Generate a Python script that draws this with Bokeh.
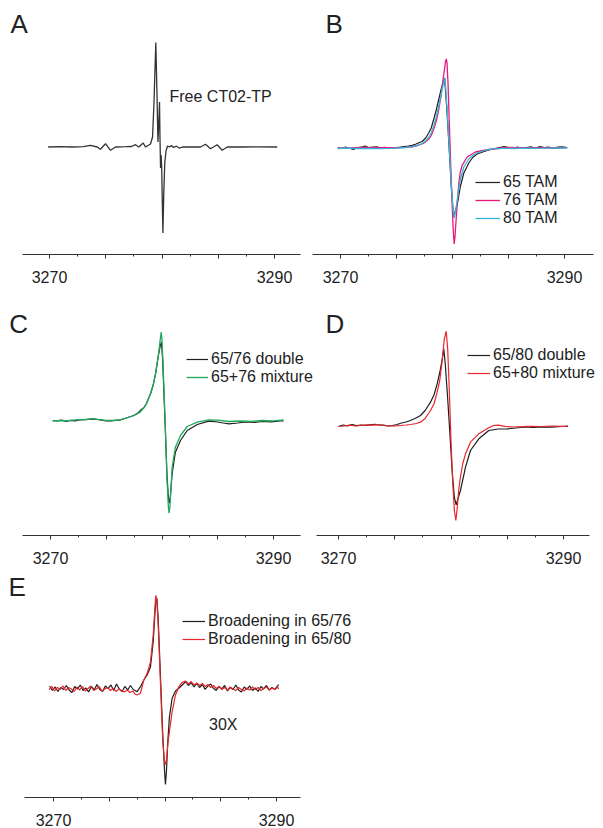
from bokeh.plotting import figure
from bokeh.layouts import column, row
from bokeh.models import FixedTicker, Range1d, Label, Legend, LegendItem
from bokeh.embed import file_html
from bokeh.resources import INLINE

FONT = "Liberation Sans"

# ---------------- axis ticks (magnetic field, G) ----------------
TICKS = [3270, 3275, 3280, 3285, 3290]
MINOR_TICKS = [3272.5, 3277.5, 3282.5, 3287.5]
HIDDEN_TICK_LABELS = {3275: "", 3280: "", 3285: ""}

# ---------------- data: (field G, signal a.u.) ----------------
A_FREE = [(3269.88, 0), (3271.0, 0.3), (3272.0, 0), (3273.0, 0.3), (3273.64, 1.7), (3274.24, 0),
          (3274.53, -2.3), (3274.98, 3.3), (3275.42, -3.3), (3275.87, 0), (3276.8, 0.3), (3277.3, 0.5),
          (3277.64, 2.3), (3277.94, 0), (3278.33, 4), (3278.53, 0), (3278.98, 3), (3279.16, 10),
          (3279.29, 45), (3279.45, 104.5), (3279.56, 50), (3279.64, 5), (3279.72, 25), (3279.78, 45),
          (3279.82, 10), (3279.87, -21), (3279.92, -8), (3279.97, -20), (3280.08, -86), (3280.16, -45),
          (3280.25, -15), (3280.36, -4), (3280.49, 1), (3280.67, 0), (3280.84, 1.5), (3281.02, -0.5),
          (3281.29, 0.8), (3281.56, -1.2), (3281.82, 0), (3282.53, 0), (3283.42, 0), (3283.87, 2.7),
          (3284.31, -1.7), (3284.9, 2.3), (3285.35, -3.3), (3285.8, 0), (3286.98, 0), (3288.5, 0.2),
          (3290.24, 0)]

B_65 = [(3269.76, 0.5), (3270.1, -0.5), (3270.45, 1.0), (3270.8, -0.3), (3271.15, -1.5), (3271.5, 0.2),
        (3271.85, 0.8), (3272.2, 2.0), (3272.55, 0.3), (3272.9, 0.8), (3273.25, 1.2), (3273.6, 0.0),
        (3273.95, 0.6), (3274.3, -0.4), (3274.65, 0.3), (3275.0, 0.4), (3275.35, 0.8), (3275.7, 1.3),
        (3276.05, 1.8), (3276.4, 2.6), (3276.75, 4.0), (3277.05, 5.5), (3277.3, 6.5), (3277.6, 10),
        (3277.9, 15.5), (3278.1, 20), (3278.33, 29), (3278.55, 38), (3278.78, 49), (3278.95, 57),
        (3279.08, 62.5), (3279.2, 67), (3279.29, 70), (3279.5, 38), (3279.7, 0), (3279.9, -40),
        (3280.05, -63), (3280.12, -69), (3280.25, -63), (3280.42, -57), (3280.71, -38), (3281.01, -25),
        (3281.46, -15), (3281.8, -9.5), (3282.2, -6), (3282.95, -3), (3283.4, -1.5), (3283.8, -0.5),
        (3284.2, 0.5), (3284.6, 1.5), (3285.0, 0.3), (3285.4, -0.5), (3285.8, 0.8), (3286.2, -0.3),
        (3286.6, 0.5), (3287.0, 1.2), (3287.4, -0.2), (3287.8, 1.5), (3288.2, 0.3), (3288.6, 1.0),
        (3289.0, -0.5), (3289.4, 0.8), (3289.8, 1.2), (3290.24, 0.3)]

B_76 = [(3269.76, 0), (3271.0, 0.3), (3272.0, 0.6), (3273.0, 0.3), (3274.0, 0.4), (3275.0, 0.3),
        (3275.7, 0.6), (3276.3, 1.0), (3276.9, 2.5), (3277.4, 4.5), (3277.9, 9), (3278.1, 12.5),
        (3278.33, 19), (3278.55, 27), (3278.78, 39), (3278.95, 50), (3279.08, 62), (3279.2, 72),
        (3279.29, 79), (3279.37, 86), (3279.44, 89), (3279.51, 85), (3279.6, 65), (3279.7, 30),
        (3279.85, -20), (3280.0, -65), (3280.08, -85), (3280.15, -96), (3280.22, -89), (3280.32, -72),
        (3280.42, -56), (3280.57, -34), (3280.7, -24), (3280.86, -17.5), (3281.31, -9), (3282.05, -4),
        (3282.95, -2), (3284.0, -0.5), (3285.0, 0.5), (3286.5, 0), (3288.0, 0.3), (3289.2, 0),
        (3290.24, 0.3)]

B_80 = [(3269.76, -0.5), (3270.6, 0), (3271.5, -0.5), (3272.5, -0.3), (3273.5, -0.6), (3274.5, -0.3),
        (3275.3, 0), (3275.8, 0.5), (3276.4, 1.3), (3276.9, 2.8), (3277.3, 4.5), (3277.6, 7),
        (3277.9, 11), (3278.1, 15), (3278.33, 22), (3278.55, 31), (3278.78, 42), (3278.95, 52),
        (3279.08, 59), (3279.2, 65), (3279.33, 70), (3279.5, 42), (3279.7, 3), (3279.9, -38),
        (3280.05, -61), (3280.15, -70), (3280.28, -63), (3280.42, -52), (3280.57, -40), (3280.71, -31),
        (3281.01, -19), (3281.46, -11), (3281.8, -7.5), (3282.2, -5), (3282.95, -2), (3283.6, -0.8),
        (3284.5, -0.3), (3285.5, -0.5), (3286.5, -0.2), (3287.5, -0.4), (3288.5, -0.1), (3289.5, 0),
        (3290.24, 0)]

C_DOUBLE = [(3270.2, 0), (3270.6, -0.5), (3271.0, 0.3), (3271.4, -0.8), (3271.8, 0.2), (3272.2, -0.3),
            (3272.6, 0.5), (3273.0, 0.8), (3273.4, 1.2), (3273.8, 1.6), (3274.2, 1.0), (3274.6, 0.3),
            (3275.0, -0.5), (3275.4, -0.3), (3275.8, 0.2), (3276.28, 0.7), (3276.8, 2.5), (3277.2, 4),
            (3277.47, 5), (3277.9, 8), (3278.15, 11), (3278.37, 12.7), (3278.6, 17), (3278.97, 26.7),
            (3279.2, 35), (3279.42, 46.7), (3279.7, 66.7), (3279.85, 75), (3279.95, 78.3), (3280.05, 62),
            (3280.25, 5), (3280.45, -55), (3280.58, -78), (3280.66, -82.7), (3280.75, -76), (3280.91, -53),
            (3281.2, -31.7), (3281.66, -20), (3282.26, -10), (3283.16, -4), (3284.2, -0.7), (3285.0, -1.5),
            (3285.5, -2.5), (3286.0, -3.3), (3286.8, -2.5), (3287.5, -1.5), (3288.3, -1.8), (3289.0, -1.0),
            (3289.8, -1.3), (3290.6, -0.5), (3290.9, -0.3)]

C_MIX = [(3270.2, -0.5), (3270.8, 0), (3271.4, -0.3), (3272.0, 0.3), (3272.6, 0.8), (3273.2, 1.0),
         (3273.8, 1.8), (3274.4, 0.8), (3275.0, 0), (3275.6, 0), (3276.28, 0.7), (3276.8, 2.5),
         (3277.47, 5), (3278.0, 8), (3278.37, 12.7), (3278.6, 16.5), (3278.97, 26.7), (3279.2, 35),
         (3279.42, 46.7), (3279.7, 67), (3279.85, 82), (3279.93, 88.3), (3280.0, 80), (3280.1, 55),
         (3280.28, 0), (3280.45, -60), (3280.58, -88), (3280.64, -92.7), (3280.72, -85), (3280.91, -46.7),
         (3281.2, -26.7), (3281.66, -15), (3282.26, -6), (3283.16, -1.7), (3284.2, 0.7), (3285.0, 0.3),
         (3286.0, -1.0), (3287.0, -0.5), (3288.0, -0.8), (3289.0, 0), (3290.0, -0.3), (3290.9, 0.5)]

D_DOUBLE = [(3270.0, -1), (3270.4, 0.5), (3270.8, -0.3), (3271.2, 0.8), (3271.6, -0.2), (3272.0, 0.5),
            (3272.4, 0), (3272.8, 0.7), (3273.2, 1.2), (3273.6, 0.6), (3274.0, 0.3), (3274.4, -0.5),
            (3274.8, 0), (3275.2, 1.0), (3275.6, 2.5), (3276.0, 3.5), (3276.4, 5), (3276.8, 7),
            (3277.29, 10), (3277.7, 15), (3278.18, 23.3), (3278.5, 31), (3278.77, 41.7), (3279.0, 53),
            (3279.2, 65), (3279.36, 76.7), (3279.5, 60), (3279.7, 28), (3279.9, -8), (3280.1, -45),
            (3280.3, -72), (3280.46, -79.3), (3280.6, -74), (3280.84, -65), (3281.29, -41.7), (3281.73, -25),
            (3282.47, -13.3), (3283.36, -5), (3284.2, -3.5), (3285.0, -3.3), (3285.8, -2.5), (3286.5, -1.5),
            (3287.3, -2.0), (3288.2, -1.3), (3289.0, -1.7), (3289.8, -1.0), (3290.4, -0.8)]

D_MIX = [(3270.0, -1), (3270.5, -0.5), (3271.0, 0.3), (3271.5, -0.5), (3272.0, 0.2), (3272.5, 0.6),
         (3273.0, 0.4), (3273.5, 0.8), (3274.0, 0), (3274.5, -0.3), (3275.0, -0.5), (3275.5, 0),
         (3276.0, 0.5), (3276.4, 1), (3276.9, 2), (3277.29, 3.3), (3277.7, 7), (3278.18, 15),
         (3278.5, 22), (3278.77, 33.3), (3279.0, 45), (3279.2, 63), (3279.4, 86), (3279.57, 94.3),
         (3279.7, 78), (3279.85, 35), (3280.0, -15), (3280.15, -57), (3280.3, -85), (3280.43, -95),
         (3280.55, -83), (3280.68, -65), (3280.84, -51.7), (3281.05, -38), (3281.29, -28.3), (3281.73, -16.7),
         (3282.47, -8.3), (3283.36, -2.3), (3283.8, 0), (3284.2, 0.3), (3284.8, -0.8), (3285.5, -1.5),
         (3286.3, -1.2), (3287.0, -0.8), (3288.0, -1.0), (3289.0, -0.5), (3290.0, -0.8), (3290.4, -0.5)]

E_65_76 = [(3269.65, 2.0), (3269.9, -2.5), (3270.15, 1.0), (3270.4, -3.5), (3270.65, 0.5), (3270.9, -1.5),
           (3271.15, 2.5), (3271.4, -2.0), (3271.65, -4.5), (3271.9, 1.5), (3272.15, -1.0), (3272.4, 3.0),
           (3272.65, -2.5), (3272.9, 0.0), (3273.15, -4.0), (3273.4, 1.5), (3273.65, -2.0), (3273.9, 3.5),
           (3274.15, -1.5), (3274.4, -3.5), (3274.65, 2.0), (3274.9, -0.5), (3275.15, 3.0), (3275.4, -2.5),
           (3275.65, 4.0), (3275.9, -1.0), (3276.15, -3.5), (3276.4, 1.5), (3276.65, -2.0), (3276.9, 2.5),
           (3277.15, -1.5), (3277.5, -3.7), (3277.8, 1.3), (3278.1, 8), (3278.4, 13), (3278.7, 21.3),
           (3278.94, 46.3), (3279.09, 73), (3279.18, 88), (3279.27, 90.3), (3279.39, 69.7), (3279.6, 10),
           (3279.8, -47), (3279.96, -83.7), (3280.04, -97), (3280.13, -83.7), (3280.25, -53.7), (3280.4, -28.7),
           (3280.64, -10.3), (3280.94, -3), (3281.24, -0.3), (3281.54, 3), (3281.84, 6.3), (3282.1, 2.5),
           (3282.35, 5.5), (3282.6, 1.0), (3282.85, 4.5), (3283.1, 0.5), (3283.35, 3.5), (3283.6, -1.5),
           (3283.85, 2.0), (3284.1, 4.0), (3284.35, -0.5), (3284.6, -2.5), (3284.85, 1.5), (3285.1, -1.0),
           (3285.35, 2.5), (3285.6, -3.0), (3285.85, 0.5), (3286.1, -1.5), (3286.35, 3.0), (3286.6, -2.0),
           (3286.85, -4.0), (3287.1, 1.0), (3287.35, -1.5), (3287.6, 2.0), (3287.85, -2.5), (3288.1, 0.0),
           (3288.35, -3.5), (3288.6, 1.5), (3288.85, -1.0), (3289.1, 2.5), (3289.35, -2.0), (3289.6, 0.5),
           (3289.85, -1.5), (3290.1, 2.0), (3290.2, 3.5)]

E_65_80 = [(3269.6, -2.0), (3269.85, 1.5), (3270.1, -3.0), (3270.35, 0.5), (3270.6, -1.5), (3270.85, 2.0),
           (3271.1, -2.5), (3271.35, 0.5), (3271.6, -1.0), (3271.85, -3.5), (3272.1, 1.0), (3272.35, -2.0),
           (3272.6, 1.5), (3272.85, -3.0), (3273.1, -0.5), (3273.35, 2.0), (3273.6, -2.5), (3273.85, -1.0),
           (3274.1, 1.5), (3274.35, -3.0), (3274.6, -1.0), (3274.85, 0.5), (3275.1, -2.5), (3275.35, -0.5),
           (3275.6, -3.5), (3275.85, -1.0), (3276.1, -2.5), (3276.35, -4.0), (3276.6, -2.0), (3276.85, -4.5),
           (3277.1, -3.0), (3277.3, -6.0), (3277.5, -7.0), (3277.8, -5.3), (3278.1, 8), (3278.4, 14.7),
           (3278.7, 26.3), (3278.94, 53), (3279.09, 79.7), (3279.18, 93), (3279.27, 88), (3279.39, 63),
           (3279.6, 3), (3279.8, -53.7), (3279.96, -73.7), (3280.04, -77), (3280.13, -72), (3280.25, -57),
           (3280.4, -43.7), (3280.64, -23.7), (3280.94, -7), (3281.24, 1.3), (3281.54, 5.7), (3281.84, 7),
           (3282.1, 4.0), (3282.35, 6.5), (3282.6, 3.0), (3282.85, 5.0), (3283.1, 2.5), (3283.35, 4.5),
           (3283.6, 1.5), (3283.85, 3.5), (3284.1, 0.5), (3284.35, 2.5), (3284.6, -0.5), (3284.85, 1.5),
           (3285.1, -1.5), (3285.35, 0.5), (3285.6, -2.0), (3285.85, 1.0), (3286.1, -1.0), (3286.35, -2.5),
           (3286.6, 0.5), (3286.85, -1.5), (3287.1, -3.0), (3287.35, 0.0), (3287.6, -2.0), (3287.85, 1.0),
           (3288.1, -1.5), (3288.35, 0.5), (3288.6, -2.5), (3288.85, -0.5), (3289.1, 1.0), (3289.35, -2.0),
           (3289.6, 0.0), (3289.85, -1.5), (3290.1, 1.0), (3290.2, -1.0)]

BLACK = "#1e1e1e"
MAGENTA = "#e8197c"
CYAN = "#38b4d8"
GREEN = "#20a95a"
RED = "#e8262b"
TEXT = "#222222"


def xs(data):
    return [d[0] for d in data]


def ys(data):
    return [d[1] for d in data]


def make_panel(width, height, border_bottom, px3270, px3290, frame_left, axis_left, axis_right,
               baseline, frame_top, frame_bottom, standoff):
    scale = (px3290 - px3270) / 20.0

    def gx(px):
        return 3270 + (px - px3270) / scale

    def gy(py):
        return baseline - py

    p = figure(width=width, height=height, output_backend="svg", toolbar_location=None,
               x_range=Range1d(gx(frame_left), gx(frame_left + width)),
               y_range=Range1d(gy(frame_bottom), gy(frame_top)),
               y_axis_location=None, min_border=0, min_border_bottom=border_bottom)
    p.outline_line_color = None
    p.xgrid.visible = False
    p.ygrid.visible = False
    ax = p.xaxis[0]
    ax.ticker = FixedTicker(ticks=TICKS, minor_ticks=MINOR_TICKS)
    ax.major_label_overrides = HIDDEN_TICK_LABELS
    ax.bounds = (gx(axis_left), gx(axis_right))
    ax.axis_line_color = "#333333"
    ax.axis_line_width = 1
    ax.major_tick_line_color = "#333333"
    ax.minor_tick_line_color = "#333333"
    ax.major_tick_in = 0
    ax.major_tick_out = 4
    ax.minor_tick_in = 0
    ax.minor_tick_out = 2
    ax.major_label_standoff = standoff
    ax.major_label_text_font = FONT
    ax.major_label_text_font_size = "16px"
    ax.major_label_text_color = TEXT
    return p, gx, gy


def add_label(p, gx, gy, px, py, text, size):
    p.add_layout(Label(x=gx(px), y=gy(py), text=text, text_font=FONT, text_font_size=size,
                       text_color=TEXT, text_baseline="alphabetic", text_align="left"))


def add_legend(p, items, loc, glyph_width):
    leg = Legend(items=[LegendItem(label=lab, renderers=[r]) for lab, r in items],
                 location=loc, orientation="vertical", border_line_color=None,
                 background_fill_alpha=0, glyph_width=glyph_width, glyph_height=16,
                 label_height=16, label_standoff=3, spacing=-3, padding=0, margin=0,
                 label_text_font=FONT, label_text_font_size="16px", label_text_color=TEXT)
    p.add_layout(leg)


# ---- Panel A ----
pA, gxA, gyA = make_panel(302, 290, 36, 49, 274, 0, 22, 300, 146.5, 0, 254, 12)
pA.line(xs(A_FREE), ys(A_FREE), line_color="#333333", line_width=1.3)
add_label(pA, gxA, gyA, 10, 23, "A", "26px")
add_label(pA, gxA, gyA, 169, 96, "Free CT02-TP", "16px")

# ---- Panel B ----
pB, gxB, gyB = make_panel(300, 290, 36, 340, 564, 302, 312, 593, 147.5, 0, 254, 12)
rB65 = pB.line(xs(B_65), ys(B_65), line_color=BLACK, line_width=1.2)
rB76 = pB.line(xs(B_76), ys(B_76), line_color=MAGENTA, line_width=1.3)
rB80 = pB.line(xs(B_80), ys(B_80), line_color=CYAN, line_width=1.3)
add_label(pB, gxB, gyB, 325, 23, "B", "26px")
add_legend(pB, [("65 TAM", rB65), ("76 TAM", rB76), ("80 TAM", rB80)], (173, 27), 25)

# ---- Panel C ----
pC, gxC, gyC = make_panel(316, 278, 33, 50, 273, 0, 22, 300, 420, 290, 535, 12)
rC1 = pC.line(xs(C_DOUBLE), ys(C_DOUBLE), line_color=BLACK, line_width=1.2)
rC2 = pC.line(xs(C_MIX), ys(C_MIX), line_color=GREEN, line_width=1.3)
add_label(pC, gxC, gyC, 8.7, 323, "C", "26px")
add_legend(pC, [("65/76 double", rC1), ("65+76 mixture", rC2)], (186, 149), 22)

# ---- Panel D ----
pD, gxD, gyD = make_panel(286, 278, 33, 338, 563, 316, 316, 589, 425, 290, 535, 12)
rD1 = pD.line(xs(D_DOUBLE), ys(D_DOUBLE), line_color=BLACK, line_width=1.2)
rD2 = pD.line(xs(D_MIX), ys(D_MIX), line_color=RED, line_width=1.2)
add_label(pD, gxD, gyD, 325, 323, "D", "26px")
add_legend(pD, [("65/80 double", rD1), ("65+80 mixture", rD2)], (151, 153), 23)

# ---- Panel E ----
pE, gxE, gyE = make_panel(602, 260, 30, 53, 276, 0, 24, 300, 688, 568, 798, 12)
rE1 = pE.line(xs(E_65_76), ys(E_65_76), line_color=BLACK, line_width=1.2)
rE2 = pE.line(xs(E_65_80), ys(E_65_80), line_color=RED, line_width=1.2)
add_label(pE, gxE, gyE, 8, 587, "E", "26px")
add_label(pE, gxE, gyE, 208.5, 725, "30X", "16px")
add_legend(pE, [("Broadening in 65/76", rE1), ("Broadening in 65/80", rE2)], (182, 149), 23)

layout = column(row(pA, pB), row(pC, pD), pE)
open("out.html", "w").write(file_html(layout, INLINE))
